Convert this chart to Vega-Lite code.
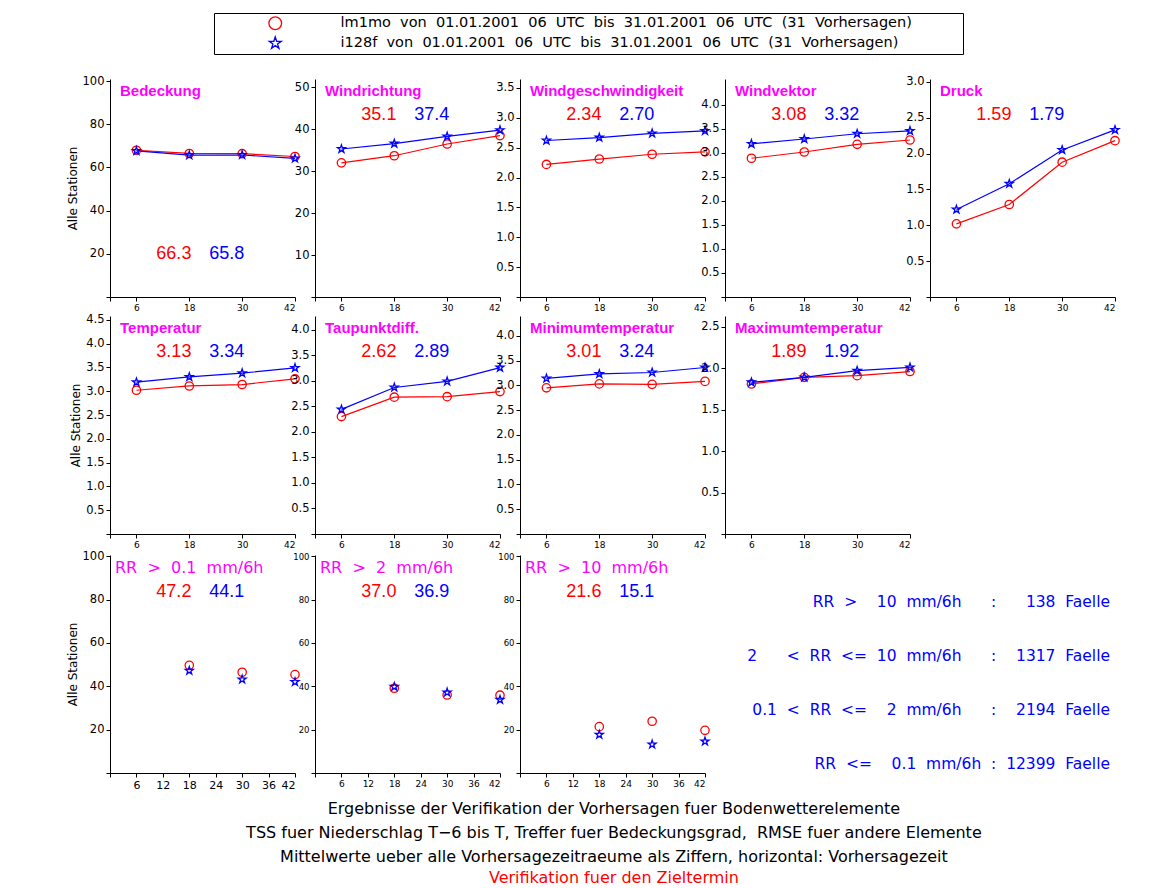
{
  "$schema": "https://vega.github.io/schema/vega-lite/v6.json",
  "background": "white",
  "padding": {"left": 66, "top": 12, "right": 5, "bottom": 5},
  "config": {
    "font": "DejaVu Sans",
    "view": {"stroke": null},
    "axis": {"grid": false, "domainColor": "black", "tickColor": "black", "labelColor": "black", "titleColor": "black", "labelFont": "DejaVu Sans", "titleFont": "DejaVu Sans", "tickSize": 4, "domainWidth": 1, "tickWidth": 1, "labelPadding": 2, "titleFontWeight": "normal", "titleFontSize": 12, "labelOverlap": false},
    "axisX": {"labelFontSize": 9, "labelAngle": 0},
    "axisY": {"labelFontSize": 11.5, "titlePadding": 3}
  },
  "title": {
    "text": ["Ergebnisse der Verifikation der Vorhersagen fuer Bodenwetterelemente", "TSS fuer Niederschlag T\u22126 bis T, Treffer fuer Bedeckungsgrad,\u00a0 RMSE fuer andere Elemente", "Mittelwerte ueber alle Vorhersagezeitraeume als Ziffern, horizontal: Vorhersagezeit"],
    "subtitle": "Verifikation fuer den Zieltermin",
    "orient": "bottom", "anchor": "middle", "frame": "bounds", "dx": 20,
    "font": "DejaVu Sans", "fontSize": 16, "fontWeight": "normal", "color": "#000000", "lineHeight": 24,
    "subtitleFont": "DejaVu Sans", "subtitleFontSize": 16, "subtitleColor": "#ff0000", "subtitlePadding": 5, "offset": 11
  },
  "datasets": {
    "series": [
      {"panel": "Bedeckung", "model": "lm1mo", "lead": 6, "value": 68.0},
      {"panel": "Bedeckung", "model": "lm1mo", "lead": 18, "value": 66.5},
      {"panel": "Bedeckung", "model": "lm1mo", "lead": 30, "value": 66.4},
      {"panel": "Bedeckung", "model": "lm1mo", "lead": 42, "value": 65.1},
      {"panel": "Bedeckung", "model": "i128f", "lead": 6, "value": 67.7},
      {"panel": "Bedeckung", "model": "i128f", "lead": 18, "value": 65.7},
      {"panel": "Bedeckung", "model": "i128f", "lead": 30, "value": 65.8},
      {"panel": "Bedeckung", "model": "i128f", "lead": 42, "value": 64.2},
      {"panel": "Windrichtung", "model": "lm1mo", "lead": 6, "value": 32.0},
      {"panel": "Windrichtung", "model": "lm1mo", "lead": 18, "value": 33.7},
      {"panel": "Windrichtung", "model": "lm1mo", "lead": 30, "value": 36.5},
      {"panel": "Windrichtung", "model": "lm1mo", "lead": 42, "value": 38.5},
      {"panel": "Windrichtung", "model": "i128f", "lead": 6, "value": 35.3},
      {"panel": "Windrichtung", "model": "i128f", "lead": 18, "value": 36.6},
      {"panel": "Windrichtung", "model": "i128f", "lead": 30, "value": 38.3},
      {"panel": "Windrichtung", "model": "i128f", "lead": 42, "value": 39.8},
      {"panel": "Windgeschwindigkeit", "model": "lm1mo", "lead": 6, "value": 2.22},
      {"panel": "Windgeschwindigkeit", "model": "lm1mo", "lead": 18, "value": 2.31},
      {"panel": "Windgeschwindigkeit", "model": "lm1mo", "lead": 30, "value": 2.39},
      {"panel": "Windgeschwindigkeit", "model": "lm1mo", "lead": 42, "value": 2.43},
      {"panel": "Windgeschwindigkeit", "model": "i128f", "lead": 6, "value": 2.62},
      {"panel": "Windgeschwindigkeit", "model": "i128f", "lead": 18, "value": 2.67},
      {"panel": "Windgeschwindigkeit", "model": "i128f", "lead": 30, "value": 2.74},
      {"panel": "Windgeschwindigkeit", "model": "i128f", "lead": 42, "value": 2.78},
      {"panel": "Windvektor", "model": "lm1mo", "lead": 6, "value": 2.89},
      {"panel": "Windvektor", "model": "lm1mo", "lead": 18, "value": 3.02},
      {"panel": "Windvektor", "model": "lm1mo", "lead": 30, "value": 3.18},
      {"panel": "Windvektor", "model": "lm1mo", "lead": 42, "value": 3.27},
      {"panel": "Windvektor", "model": "i128f", "lead": 6, "value": 3.19},
      {"panel": "Windvektor", "model": "i128f", "lead": 18, "value": 3.29},
      {"panel": "Windvektor", "model": "i128f", "lead": 30, "value": 3.40},
      {"panel": "Windvektor", "model": "i128f", "lead": 42, "value": 3.46},
      {"panel": "Druck", "model": "lm1mo", "lead": 6, "value": 1.02},
      {"panel": "Druck", "model": "lm1mo", "lead": 18, "value": 1.29},
      {"panel": "Druck", "model": "lm1mo", "lead": 30, "value": 1.88},
      {"panel": "Druck", "model": "lm1mo", "lead": 42, "value": 2.18},
      {"panel": "Druck", "model": "i128f", "lead": 6, "value": 1.22},
      {"panel": "Druck", "model": "i128f", "lead": 18, "value": 1.58},
      {"panel": "Druck", "model": "i128f", "lead": 30, "value": 2.05},
      {"panel": "Druck", "model": "i128f", "lead": 42, "value": 2.33},
      {"panel": "Temperatur", "model": "lm1mo", "lead": 6, "value": 3.02},
      {"panel": "Temperatur", "model": "lm1mo", "lead": 18, "value": 3.11},
      {"panel": "Temperatur", "model": "lm1mo", "lead": 30, "value": 3.14},
      {"panel": "Temperatur", "model": "lm1mo", "lead": 42, "value": 3.26},
      {"panel": "Temperatur", "model": "i128f", "lead": 6, "value": 3.19},
      {"panel": "Temperatur", "model": "i128f", "lead": 18, "value": 3.30},
      {"panel": "Temperatur", "model": "i128f", "lead": 30, "value": 3.38},
      {"panel": "Temperatur", "model": "i128f", "lead": 42, "value": 3.49},
      {"panel": "Taupunktdiff.", "model": "lm1mo", "lead": 6, "value": 2.30},
      {"panel": "Taupunktdiff.", "model": "lm1mo", "lead": 18, "value": 2.68},
      {"panel": "Taupunktdiff.", "model": "lm1mo", "lead": 30, "value": 2.69},
      {"panel": "Taupunktdiff.", "model": "lm1mo", "lead": 42, "value": 2.79},
      {"panel": "Taupunktdiff.", "model": "i128f", "lead": 6, "value": 2.44},
      {"panel": "Taupunktdiff.", "model": "i128f", "lead": 18, "value": 2.87},
      {"panel": "Taupunktdiff.", "model": "i128f", "lead": 30, "value": 2.99},
      {"panel": "Taupunktdiff.", "model": "i128f", "lead": 42, "value": 3.26},
      {"panel": "Minimumtemperatur", "model": "lm1mo", "lead": 6, "value": 2.95},
      {"panel": "Minimumtemperatur", "model": "lm1mo", "lead": 18, "value": 3.03},
      {"panel": "Minimumtemperatur", "model": "lm1mo", "lead": 30, "value": 3.02},
      {"panel": "Minimumtemperatur", "model": "lm1mo", "lead": 42, "value": 3.08},
      {"panel": "Minimumtemperatur", "model": "i128f", "lead": 6, "value": 3.14},
      {"panel": "Minimumtemperatur", "model": "i128f", "lead": 18, "value": 3.23},
      {"panel": "Minimumtemperatur", "model": "i128f", "lead": 30, "value": 3.26},
      {"panel": "Minimumtemperatur", "model": "i128f", "lead": 42, "value": 3.36},
      {"panel": "Maximumtemperatur", "model": "lm1mo", "lead": 6, "value": 1.81},
      {"panel": "Maximumtemperatur", "model": "lm1mo", "lead": 18, "value": 1.89},
      {"panel": "Maximumtemperatur", "model": "lm1mo", "lead": 30, "value": 1.91},
      {"panel": "Maximumtemperatur", "model": "lm1mo", "lead": 42, "value": 1.96},
      {"panel": "Maximumtemperatur", "model": "i128f", "lead": 6, "value": 1.83},
      {"panel": "Maximumtemperatur", "model": "i128f", "lead": 18, "value": 1.89},
      {"panel": "Maximumtemperatur", "model": "i128f", "lead": 30, "value": 1.97},
      {"panel": "Maximumtemperatur", "model": "i128f", "lead": 42, "value": 2.01},
      {"panel": "RR01", "model": "lm1mo", "lead": 18, "value": 49.7},
      {"panel": "RR01", "model": "lm1mo", "lead": 30, "value": 46.5},
      {"panel": "RR01", "model": "lm1mo", "lead": 42, "value": 45.4},
      {"panel": "RR01", "model": "i128f", "lead": 18, "value": 47.2},
      {"panel": "RR01", "model": "i128f", "lead": 30, "value": 43.2},
      {"panel": "RR01", "model": "i128f", "lead": 42, "value": 42.0},
      {"panel": "RR2", "model": "lm1mo", "lead": 18, "value": 39.1},
      {"panel": "RR2", "model": "lm1mo", "lead": 30, "value": 36.0},
      {"panel": "RR2", "model": "lm1mo", "lead": 42, "value": 35.9},
      {"panel": "RR2", "model": "i128f", "lead": 18, "value": 39.8},
      {"panel": "RR2", "model": "i128f", "lead": 30, "value": 37.2},
      {"panel": "RR2", "model": "i128f", "lead": 42, "value": 33.8},
      {"panel": "RR10", "model": "lm1mo", "lead": 18, "value": 21.4},
      {"panel": "RR10", "model": "lm1mo", "lead": 30, "value": 23.9},
      {"panel": "RR10", "model": "lm1mo", "lead": 42, "value": 19.7},
      {"panel": "RR10", "model": "i128f", "lead": 18, "value": 17.7},
      {"panel": "RR10", "model": "i128f", "lead": 30, "value": 13.2},
      {"panel": "RR10", "model": "i128f", "lead": 42, "value": 14.6}
    ],
    "panels": [
      {"panel": "Bedeckung", "title": "Bedeckung", "red": "66.3", "blue": "65.8"},
      {"panel": "Windrichtung", "title": "Windrichtung", "red": "35.1", "blue": "37.4"},
      {"panel": "Windgeschwindigkeit", "title": "Windgeschwindigkeit", "red": "2.34", "blue": "2.70"},
      {"panel": "Windvektor", "title": "Windvektor", "red": "3.08", "blue": "3.32"},
      {"panel": "Druck", "title": "Druck", "red": "1.59", "blue": "1.79"},
      {"panel": "Temperatur", "title": "Temperatur", "red": "3.13", "blue": "3.34"},
      {"panel": "Taupunktdiff.", "title": "Taupunktdiff.", "red": "2.62", "blue": "2.89"},
      {"panel": "Minimumtemperatur", "title": "Minimumtemperatur", "red": "3.01", "blue": "3.24"},
      {"panel": "Maximumtemperatur", "title": "Maximumtemperatur", "red": "1.89", "blue": "1.92"},
      {"panel": "RR01", "title": "RR\u00a0\u00a0>\u00a0\u00a00.1\u00a0\u00a0mm/6h", "red": "47.2", "blue": "44.1"},
      {"panel": "RR2", "title": "RR\u00a0\u00a0>\u00a0\u00a02\u00a0\u00a0mm/6h", "red": "37.0", "blue": "36.9"},
      {"panel": "RR10", "title": "RR\u00a0\u00a0>\u00a0\u00a010\u00a0\u00a0mm/6h", "red": "21.6", "blue": "15.1"}
    ],
    "counts": [
      {"line": "RR\u00a0\u00a0>\u00a0\u00a0\u00a0\u00a010\u00a0\u00a0mm/6h\u00a0\u00a0\u00a0\u00a0\u00a0\u00a0:\u00a0\u00a0\u00a0\u00a0\u00a0\u00a0138\u00a0\u00a0Faelle"},
      {"line": "2\u00a0\u00a0\u00a0\u00a0\u00a0\u00a0<\u00a0\u00a0RR\u00a0\u00a0<=\u00a0\u00a010\u00a0\u00a0mm/6h\u00a0\u00a0\u00a0\u00a0\u00a0\u00a0:\u00a0\u00a0\u00a0\u00a01317\u00a0\u00a0Faelle"},
      {"line": "0.1\u00a0\u00a0<\u00a0\u00a0RR\u00a0\u00a0<=\u00a0\u00a0\u00a0\u00a02\u00a0\u00a0mm/6h\u00a0\u00a0\u00a0\u00a0\u00a0\u00a0:\u00a0\u00a0\u00a0\u00a02194\u00a0\u00a0Faelle"},
      {"line": "RR\u00a0\u00a0<=\u00a0\u00a0\u00a0\u00a00.1\u00a0\u00a0mm/6h\u00a0\u00a0:\u00a0\u00a012399\u00a0\u00a0Faelle"}
    ]
  },
  "spacing": 1,
  "vconcat": [
    {
      "spacing": 20, "bounds": "flush",
      "hconcat": [
        {
          "width": 185, "height": 218,
          "resolve": {"scale": {"x": "independent", "y": "independent"}},
          "layer": [
            {
              "encoding": {
                "x": {"field": "lead", "type": "quantitative", "scale": {"domain": [0, 42], "nice": false, "zero": false}, "axis": {"values": [0, 6, 18, 30, 42], "labelExpr": "datum.value==0?'':datum.label", "title": null, "labelOverlap": false}},
                "y": {"field": "value", "type": "quantitative", "scale": {"domain": [0, 101], "nice": false, "zero": false}, "axis": {"values": [0, 20, 40, 60, 80, 100], "format": "d", "labelExpr": "datum.value==0?'':datum.label", "title": "Alle Stationen", "labelOverlap": false}}
              },
              "layer": [
                {"data": {"name": "series"}, "transform": [{"filter": "datum.panel=='Bedeckung' && datum.model=='lm1mo'"}], "mark": {"type": "line", "color": "#ff0000", "strokeWidth": 1.2}, "encoding": {}},
                {"data": {"name": "series"}, "transform": [{"filter": "datum.panel=='Bedeckung' && datum.model=='i128f'"}], "mark": {"type": "line", "color": "#0000ff", "strokeWidth": 1.2}, "encoding": {}},
                {"data": {"name": "series"}, "transform": [{"filter": "datum.panel=='Bedeckung'"}], "mark": {"type": "point", "filled": false, "size": 70, "strokeWidth": 1.3, "opacity": 1},
                 "encoding": {
                   "color": {"field": "model", "type": "nominal", "scale": {"domain": ["lm1mo", "i128f"], "range": ["#ff0000", "#0000ff"]},
                     "legend": {"orient": "none", "legendX": 104, "legendY": -66, "title": null, "direction": "vertical", "strokeColor": "black", "padding": 3, "symbolOffset": 51, "labelOffset": 58, "symbolSize": 160, "symbolStrokeWidth": 1.3, "labelFontSize": 14.5, "labelFont": "DejaVu Sans", "labelLimit": 2000, "rowPadding": 1,
                       "labelExpr": "datum.value == 'lm1mo' ? 'lm1mo\u00a0 von\u00a0 01.01.2001\u00a0 06\u00a0 UTC\u00a0 bis\u00a0 31.01.2001\u00a0 06\u00a0 UTC\u00a0 (31\u00a0 Vorhersagen)\u00a0\u00a0\u00a0\u00a0\u00a0\u00a0\u00a0\u00a0\u2800' : 'i128f\u00a0 von\u00a0 01.01.2001\u00a0 06\u00a0 UTC\u00a0 bis\u00a0 31.01.2001\u00a0 06\u00a0 UTC\u00a0 (31\u00a0 Vorhersagen)'",
                       "encode": {"labels": {"update": {"fill": {"signal": "datum.value == 'lm1mo' ? '#ff0000' : '#0000ff'"}}}}}},
                   "shape": {"field": "model", "type": "nominal", "scale": {"domain": ["lm1mo", "i128f"], "range": ["circle", "M0,-1L0.2245,-0.309L0.951,-0.309L0.363,0.118L0.588,0.809L0,0.382L-0.588,0.809L-0.363,0.118L-0.951,-0.309L-0.2245,-0.309Z"]},
                     "legend": {"orient": "none", "legendX": 104, "legendY": -66, "title": null, "direction": "vertical", "strokeColor": "black", "padding": 3, "symbolOffset": 51, "labelOffset": 58, "symbolSize": 160, "symbolStrokeWidth": 1.3, "labelFontSize": 14.5, "labelFont": "DejaVu Sans", "labelLimit": 2000, "rowPadding": 1,
                       "labelExpr": "datum.value == 'lm1mo' ? 'lm1mo\u00a0 von\u00a0 01.01.2001\u00a0 06\u00a0 UTC\u00a0 bis\u00a0 31.01.2001\u00a0 06\u00a0 UTC\u00a0 (31\u00a0 Vorhersagen)\u00a0\u00a0\u00a0\u00a0\u00a0\u00a0\u00a0\u00a0\u2800' : 'i128f\u00a0 von\u00a0 01.01.2001\u00a0 06\u00a0 UTC\u00a0 bis\u00a0 31.01.2001\u00a0 06\u00a0 UTC\u00a0 (31\u00a0 Vorhersagen)'",
                       "encode": {"labels": {"update": {"fill": {"signal": "datum.value == 'lm1mo' ? '#ff0000' : '#0000ff'"}}}}}}
                 }}
              ]
            },
            {"data": {"name": "panels"}, "transform": [{"filter": "datum.panel=='Bedeckung'"}], "mark": {"type": "text", "color": "#ff00ff", "font": "Liberation Sans", "fontSize": 15, "fontWeight": "bold", "align": "left", "baseline": "middle", "dx": 10, "dy": 12}, "encoding": {"x": {"datum": 0, "type": "quantitative", "scale": {"domain": [0, 42], "nice": false, "zero": false}, "axis": null}, "y": {"datum": 101, "type": "quantitative", "scale": {"domain": [0, 101], "nice": false, "zero": false}, "axis": null}, "text": {"field": "title"}}},
            {"data": {"name": "panels"}, "transform": [{"filter": "datum.panel=='Bedeckung'"}], "mark": {"type": "text", "color": "#ff0000", "font": "Liberation Sans", "fontSize": 18, "align": "center", "baseline": "middle"}, "encoding": {"x": {"datum": 14.5, "type": "quantitative", "scale": {"domain": [0, 42], "nice": false, "zero": false}, "axis": null}, "y": {"datum": 20, "type": "quantitative", "scale": {"domain": [0, 101], "nice": false, "zero": false}, "axis": null}, "text": {"field": "red"}}},
            {"data": {"name": "panels"}, "transform": [{"filter": "datum.panel=='Bedeckung'"}], "mark": {"type": "text", "color": "#0000ff", "font": "Liberation Sans", "fontSize": 18, "align": "center", "baseline": "middle"}, "encoding": {"x": {"datum": 26.5, "type": "quantitative", "scale": {"domain": [0, 42], "nice": false, "zero": false}, "axis": null}, "y": {"datum": 20, "type": "quantitative", "scale": {"domain": [0, 101], "nice": false, "zero": false}, "axis": null}, "text": {"field": "blue"}}}
          ]
        },
        {
          "width": 185, "height": 218,
          "resolve": {"scale": {"x": "independent", "y": "independent"}},
          "layer": [
            {
              "encoding": {
                "x": {"field": "lead", "type": "quantitative", "scale": {"domain": [0, 42], "nice": false, "zero": false}, "axis": {"values": [0, 6, 18, 30, 42], "labelExpr": "datum.value==0?'':datum.label", "title": null, "labelOverlap": false}},
                "y": {"field": "value", "type": "quantitative", "scale": {"domain": [0, 52], "nice": false, "zero": false}, "axis": {"values": [0, 10, 20, 30, 40, 50], "format": "d", "labelExpr": "datum.value==0?'':datum.label", "title": null, "labelOverlap": false}}
              },
              "layer": [
                {"data": {"name": "series"}, "transform": [{"filter": "datum.panel=='Windrichtung' && datum.model=='lm1mo'"}], "mark": {"type": "line", "color": "#ff0000", "strokeWidth": 1.2}, "encoding": {}},
                {"data": {"name": "series"}, "transform": [{"filter": "datum.panel=='Windrichtung' && datum.model=='i128f'"}], "mark": {"type": "line", "color": "#0000ff", "strokeWidth": 1.2}, "encoding": {}},
                {"data": {"name": "series"}, "transform": [{"filter": "datum.panel=='Windrichtung'"}], "mark": {"type": "point", "filled": false, "size": 70, "strokeWidth": 1.3, "opacity": 1},
                 "encoding": {"color": {"field": "model", "type": "nominal", "scale": {"domain": ["lm1mo", "i128f"], "range": ["#ff0000", "#0000ff"]}}, "shape": {"field": "model", "type": "nominal", "scale": {"domain": ["lm1mo", "i128f"], "range": ["circle", "M0,-1L0.2245,-0.309L0.951,-0.309L0.363,0.118L0.588,0.809L0,0.382L-0.588,0.809L-0.363,0.118L-0.951,-0.309L-0.2245,-0.309Z"]}}}}
              ]
            },
            {"data": {"name": "panels"}, "transform": [{"filter": "datum.panel=='Windrichtung'"}], "mark": {"type": "text", "color": "#ff00ff", "font": "Liberation Sans", "fontSize": 15, "fontWeight": "bold", "align": "left", "baseline": "middle", "dx": 10, "dy": 12}, "encoding": {"x": {"datum": 0, "type": "quantitative", "scale": {"domain": [0, 42], "nice": false, "zero": false}, "axis": null}, "y": {"datum": 52, "type": "quantitative", "scale": {"domain": [0, 52], "nice": false, "zero": false}, "axis": null}, "text": {"field": "title"}}},
            {"data": {"name": "panels"}, "transform": [{"filter": "datum.panel=='Windrichtung'"}], "mark": {"type": "text", "color": "#ff0000", "font": "Liberation Sans", "fontSize": 18, "align": "center", "baseline": "middle", "dy": 36}, "encoding": {"x": {"datum": 14.5, "type": "quantitative", "scale": {"domain": [0, 42], "nice": false, "zero": false}, "axis": null}, "y": {"datum": 52, "type": "quantitative", "scale": {"domain": [0, 52], "nice": false, "zero": false}, "axis": null}, "text": {"field": "red"}}},
            {"data": {"name": "panels"}, "transform": [{"filter": "datum.panel=='Windrichtung'"}], "mark": {"type": "text", "color": "#0000ff", "font": "Liberation Sans", "fontSize": 18, "align": "center", "baseline": "middle", "dy": 36}, "encoding": {"x": {"datum": 26.5, "type": "quantitative", "scale": {"domain": [0, 42], "nice": false, "zero": false}, "axis": null}, "y": {"datum": 52, "type": "quantitative", "scale": {"domain": [0, 52], "nice": false, "zero": false}, "axis": null}, "text": {"field": "blue"}}}
          ]
        },
        {
          "width": 185, "height": 218,
          "resolve": {"scale": {"x": "independent", "y": "independent"}},
          "layer": [
            {
              "encoding": {
                "x": {"field": "lead", "type": "quantitative", "scale": {"domain": [0, 42], "nice": false, "zero": false}, "axis": {"values": [0, 6, 18, 30, 42], "labelExpr": "datum.value==0?'':datum.label", "title": null, "labelOverlap": false}},
                "y": {"field": "value", "type": "quantitative", "scale": {"domain": [0, 3.65], "nice": false, "zero": false}, "axis": {"values": [0, 0.5, 1, 1.5, 2, 2.5, 3, 3.5], "format": ".1f", "labelExpr": "datum.value==0?'':datum.label", "title": null, "labelOverlap": false}}
              },
              "layer": [
                {"data": {"name": "series"}, "transform": [{"filter": "datum.panel=='Windgeschwindigkeit' && datum.model=='lm1mo'"}], "mark": {"type": "line", "color": "#ff0000", "strokeWidth": 1.2}, "encoding": {}},
                {"data": {"name": "series"}, "transform": [{"filter": "datum.panel=='Windgeschwindigkeit' && datum.model=='i128f'"}], "mark": {"type": "line", "color": "#0000ff", "strokeWidth": 1.2}, "encoding": {}},
                {"data": {"name": "series"}, "transform": [{"filter": "datum.panel=='Windgeschwindigkeit'"}], "mark": {"type": "point", "filled": false, "size": 70, "strokeWidth": 1.3, "opacity": 1},
                 "encoding": {"color": {"field": "model", "type": "nominal", "scale": {"domain": ["lm1mo", "i128f"], "range": ["#ff0000", "#0000ff"]}}, "shape": {"field": "model", "type": "nominal", "scale": {"domain": ["lm1mo", "i128f"], "range": ["circle", "M0,-1L0.2245,-0.309L0.951,-0.309L0.363,0.118L0.588,0.809L0,0.382L-0.588,0.809L-0.363,0.118L-0.951,-0.309L-0.2245,-0.309Z"]}}}}
              ]
            },
            {"data": {"name": "panels"}, "transform": [{"filter": "datum.panel=='Windgeschwindigkeit'"}], "mark": {"type": "text", "color": "#ff00ff", "font": "Liberation Sans", "fontSize": 15, "fontWeight": "bold", "align": "left", "baseline": "middle", "dx": 10, "dy": 12}, "encoding": {"x": {"datum": 0, "type": "quantitative", "scale": {"domain": [0, 42], "nice": false, "zero": false}, "axis": null}, "y": {"datum": 3.65, "type": "quantitative", "scale": {"domain": [0, 3.65], "nice": false, "zero": false}, "axis": null}, "text": {"field": "title"}}},
            {"data": {"name": "panels"}, "transform": [{"filter": "datum.panel=='Windgeschwindigkeit'"}], "mark": {"type": "text", "color": "#ff0000", "font": "Liberation Sans", "fontSize": 18, "align": "center", "baseline": "middle", "dy": 36}, "encoding": {"x": {"datum": 14.5, "type": "quantitative", "scale": {"domain": [0, 42], "nice": false, "zero": false}, "axis": null}, "y": {"datum": 3.65, "type": "quantitative", "scale": {"domain": [0, 3.65], "nice": false, "zero": false}, "axis": null}, "text": {"field": "red"}}},
            {"data": {"name": "panels"}, "transform": [{"filter": "datum.panel=='Windgeschwindigkeit'"}], "mark": {"type": "text", "color": "#0000ff", "font": "Liberation Sans", "fontSize": 18, "align": "center", "baseline": "middle", "dy": 36}, "encoding": {"x": {"datum": 26.5, "type": "quantitative", "scale": {"domain": [0, 42], "nice": false, "zero": false}, "axis": null}, "y": {"datum": 3.65, "type": "quantitative", "scale": {"domain": [0, 3.65], "nice": false, "zero": false}, "axis": null}, "text": {"field": "blue"}}}
          ]
        },
        {
          "width": 185, "height": 218,
          "resolve": {"scale": {"x": "independent", "y": "independent"}},
          "layer": [
            {
              "encoding": {
                "x": {"field": "lead", "type": "quantitative", "scale": {"domain": [0, 42], "nice": false, "zero": false}, "axis": {"values": [0, 6, 18, 30, 42], "labelExpr": "datum.value==0?'':datum.label", "title": null, "labelOverlap": false}},
                "y": {"field": "value", "type": "quantitative", "scale": {"domain": [0, 4.54], "nice": false, "zero": false}, "axis": {"values": [0, 0.5, 1, 1.5, 2, 2.5, 3, 3.5, 4], "format": ".1f", "labelExpr": "datum.value==0?'':datum.label", "title": null, "labelOverlap": false}}
              },
              "layer": [
                {"data": {"name": "series"}, "transform": [{"filter": "datum.panel=='Windvektor' && datum.model=='lm1mo'"}], "mark": {"type": "line", "color": "#ff0000", "strokeWidth": 1.2}, "encoding": {}},
                {"data": {"name": "series"}, "transform": [{"filter": "datum.panel=='Windvektor' && datum.model=='i128f'"}], "mark": {"type": "line", "color": "#0000ff", "strokeWidth": 1.2}, "encoding": {}},
                {"data": {"name": "series"}, "transform": [{"filter": "datum.panel=='Windvektor'"}], "mark": {"type": "point", "filled": false, "size": 70, "strokeWidth": 1.3, "opacity": 1},
                 "encoding": {"color": {"field": "model", "type": "nominal", "scale": {"domain": ["lm1mo", "i128f"], "range": ["#ff0000", "#0000ff"]}}, "shape": {"field": "model", "type": "nominal", "scale": {"domain": ["lm1mo", "i128f"], "range": ["circle", "M0,-1L0.2245,-0.309L0.951,-0.309L0.363,0.118L0.588,0.809L0,0.382L-0.588,0.809L-0.363,0.118L-0.951,-0.309L-0.2245,-0.309Z"]}}}}
              ]
            },
            {"data": {"name": "panels"}, "transform": [{"filter": "datum.panel=='Windvektor'"}], "mark": {"type": "text", "color": "#ff00ff", "font": "Liberation Sans", "fontSize": 15, "fontWeight": "bold", "align": "left", "baseline": "middle", "dx": 10, "dy": 12}, "encoding": {"x": {"datum": 0, "type": "quantitative", "scale": {"domain": [0, 42], "nice": false, "zero": false}, "axis": null}, "y": {"datum": 4.54, "type": "quantitative", "scale": {"domain": [0, 4.54], "nice": false, "zero": false}, "axis": null}, "text": {"field": "title"}}},
            {"data": {"name": "panels"}, "transform": [{"filter": "datum.panel=='Windvektor'"}], "mark": {"type": "text", "color": "#ff0000", "font": "Liberation Sans", "fontSize": 18, "align": "center", "baseline": "middle", "dy": 36}, "encoding": {"x": {"datum": 14.5, "type": "quantitative", "scale": {"domain": [0, 42], "nice": false, "zero": false}, "axis": null}, "y": {"datum": 4.54, "type": "quantitative", "scale": {"domain": [0, 4.54], "nice": false, "zero": false}, "axis": null}, "text": {"field": "red"}}},
            {"data": {"name": "panels"}, "transform": [{"filter": "datum.panel=='Windvektor'"}], "mark": {"type": "text", "color": "#0000ff", "font": "Liberation Sans", "fontSize": 18, "align": "center", "baseline": "middle", "dy": 36}, "encoding": {"x": {"datum": 26.5, "type": "quantitative", "scale": {"domain": [0, 42], "nice": false, "zero": false}, "axis": null}, "y": {"datum": 4.54, "type": "quantitative", "scale": {"domain": [0, 4.54], "nice": false, "zero": false}, "axis": null}, "text": {"field": "blue"}}}
          ]
        },
        {
          "width": 185, "height": 218,
          "resolve": {"scale": {"x": "independent", "y": "independent"}},
          "layer": [
            {
              "encoding": {
                "x": {"field": "lead", "type": "quantitative", "scale": {"domain": [0, 42], "nice": false, "zero": false}, "axis": {"values": [0, 6, 18, 30, 42], "labelExpr": "datum.value==0?'':datum.label", "title": null, "labelOverlap": false}},
                "y": {"field": "value", "type": "quantitative", "scale": {"domain": [0, 3.04], "nice": false, "zero": false}, "axis": {"values": [0, 0.5, 1, 1.5, 2, 2.5, 3], "format": ".1f", "labelExpr": "datum.value==0?'':datum.label", "title": null, "labelOverlap": false}}
              },
              "layer": [
                {"data": {"name": "series"}, "transform": [{"filter": "datum.panel=='Druck' && datum.model=='lm1mo'"}], "mark": {"type": "line", "color": "#ff0000", "strokeWidth": 1.2}, "encoding": {}},
                {"data": {"name": "series"}, "transform": [{"filter": "datum.panel=='Druck' && datum.model=='i128f'"}], "mark": {"type": "line", "color": "#0000ff", "strokeWidth": 1.2}, "encoding": {}},
                {"data": {"name": "series"}, "transform": [{"filter": "datum.panel=='Druck'"}], "mark": {"type": "point", "filled": false, "size": 70, "strokeWidth": 1.3, "opacity": 1},
                 "encoding": {"color": {"field": "model", "type": "nominal", "scale": {"domain": ["lm1mo", "i128f"], "range": ["#ff0000", "#0000ff"]}}, "shape": {"field": "model", "type": "nominal", "scale": {"domain": ["lm1mo", "i128f"], "range": ["circle", "M0,-1L0.2245,-0.309L0.951,-0.309L0.363,0.118L0.588,0.809L0,0.382L-0.588,0.809L-0.363,0.118L-0.951,-0.309L-0.2245,-0.309Z"]}}}}
              ]
            },
            {"data": {"name": "panels"}, "transform": [{"filter": "datum.panel=='Druck'"}], "mark": {"type": "text", "color": "#ff00ff", "font": "Liberation Sans", "fontSize": 15, "fontWeight": "bold", "align": "left", "baseline": "middle", "dx": 10, "dy": 12}, "encoding": {"x": {"datum": 0, "type": "quantitative", "scale": {"domain": [0, 42], "nice": false, "zero": false}, "axis": null}, "y": {"datum": 3.04, "type": "quantitative", "scale": {"domain": [0, 3.04], "nice": false, "zero": false}, "axis": null}, "text": {"field": "title"}}},
            {"data": {"name": "panels"}, "transform": [{"filter": "datum.panel=='Druck'"}], "mark": {"type": "text", "color": "#ff0000", "font": "Liberation Sans", "fontSize": 18, "align": "center", "baseline": "middle", "dy": 36}, "encoding": {"x": {"datum": 14.5, "type": "quantitative", "scale": {"domain": [0, 42], "nice": false, "zero": false}, "axis": null}, "y": {"datum": 3.04, "type": "quantitative", "scale": {"domain": [0, 3.04], "nice": false, "zero": false}, "axis": null}, "text": {"field": "red"}}},
            {"data": {"name": "panels"}, "transform": [{"filter": "datum.panel=='Druck'"}], "mark": {"type": "text", "color": "#0000ff", "font": "Liberation Sans", "fontSize": 18, "align": "center", "baseline": "middle", "dy": 36}, "encoding": {"x": {"datum": 26.5, "type": "quantitative", "scale": {"domain": [0, 42], "nice": false, "zero": false}, "axis": null}, "y": {"datum": 3.04, "type": "quantitative", "scale": {"domain": [0, 3.04], "nice": false, "zero": false}, "axis": null}, "text": {"field": "blue"}}}
          ]
        }
      ]
    },
    {
      "spacing": 20, "bounds": "flush",
      "hconcat": [
        {
          "width": 185, "height": 218,
          "resolve": {"scale": {"x": "independent", "y": "independent"}},
          "layer": [
            {
              "encoding": {
                "x": {"field": "lead", "type": "quantitative", "scale": {"domain": [0, 42], "nice": false, "zero": false}, "axis": {"values": [0, 6, 18, 30, 42], "labelExpr": "datum.value==0?'':datum.label", "title": null, "labelOverlap": false}},
                "y": {"field": "value", "type": "quantitative", "scale": {"domain": [0, 4.58], "nice": false, "zero": false}, "axis": {"values": [0, 0.5, 1, 1.5, 2, 2.5, 3, 3.5, 4, 4.5], "format": ".1f", "labelExpr": "datum.value==0?'':datum.label", "title": "Alle Stationen", "labelOverlap": false}}
              },
              "layer": [
                {"data": {"name": "series"}, "transform": [{"filter": "datum.panel=='Temperatur' && datum.model=='lm1mo'"}], "mark": {"type": "line", "color": "#ff0000", "strokeWidth": 1.2}, "encoding": {}},
                {"data": {"name": "series"}, "transform": [{"filter": "datum.panel=='Temperatur' && datum.model=='i128f'"}], "mark": {"type": "line", "color": "#0000ff", "strokeWidth": 1.2}, "encoding": {}},
                {"data": {"name": "series"}, "transform": [{"filter": "datum.panel=='Temperatur'"}], "mark": {"type": "point", "filled": false, "size": 70, "strokeWidth": 1.3, "opacity": 1},
                 "encoding": {"color": {"field": "model", "type": "nominal", "scale": {"domain": ["lm1mo", "i128f"], "range": ["#ff0000", "#0000ff"]}}, "shape": {"field": "model", "type": "nominal", "scale": {"domain": ["lm1mo", "i128f"], "range": ["circle", "M0,-1L0.2245,-0.309L0.951,-0.309L0.363,0.118L0.588,0.809L0,0.382L-0.588,0.809L-0.363,0.118L-0.951,-0.309L-0.2245,-0.309Z"]}}}}
              ]
            },
            {"data": {"name": "panels"}, "transform": [{"filter": "datum.panel=='Temperatur'"}], "mark": {"type": "text", "color": "#ff00ff", "font": "Liberation Sans", "fontSize": 15, "fontWeight": "bold", "align": "left", "baseline": "middle", "dx": 10, "dy": 12}, "encoding": {"x": {"datum": 0, "type": "quantitative", "scale": {"domain": [0, 42], "nice": false, "zero": false}, "axis": null}, "y": {"datum": 4.58, "type": "quantitative", "scale": {"domain": [0, 4.58], "nice": false, "zero": false}, "axis": null}, "text": {"field": "title"}}},
            {"data": {"name": "panels"}, "transform": [{"filter": "datum.panel=='Temperatur'"}], "mark": {"type": "text", "color": "#ff0000", "font": "Liberation Sans", "fontSize": 18, "align": "center", "baseline": "middle", "dy": 36}, "encoding": {"x": {"datum": 14.5, "type": "quantitative", "scale": {"domain": [0, 42], "nice": false, "zero": false}, "axis": null}, "y": {"datum": 4.58, "type": "quantitative", "scale": {"domain": [0, 4.58], "nice": false, "zero": false}, "axis": null}, "text": {"field": "red"}}},
            {"data": {"name": "panels"}, "transform": [{"filter": "datum.panel=='Temperatur'"}], "mark": {"type": "text", "color": "#0000ff", "font": "Liberation Sans", "fontSize": 18, "align": "center", "baseline": "middle", "dy": 36}, "encoding": {"x": {"datum": 26.5, "type": "quantitative", "scale": {"domain": [0, 42], "nice": false, "zero": false}, "axis": null}, "y": {"datum": 4.58, "type": "quantitative", "scale": {"domain": [0, 4.58], "nice": false, "zero": false}, "axis": null}, "text": {"field": "blue"}}}
          ]
        },
        {
          "width": 185, "height": 218,
          "resolve": {"scale": {"x": "independent", "y": "independent"}},
          "layer": [
            {
              "encoding": {
                "x": {"field": "lead", "type": "quantitative", "scale": {"domain": [0, 42], "nice": false, "zero": false}, "axis": {"values": [0, 6, 18, 30, 42], "labelExpr": "datum.value==0?'':datum.label", "title": null, "labelOverlap": false}},
                "y": {"field": "value", "type": "quantitative", "scale": {"domain": [0, 4.27], "nice": false, "zero": false}, "axis": {"values": [0, 0.5, 1, 1.5, 2, 2.5, 3, 3.5, 4], "format": ".1f", "labelExpr": "datum.value==0?'':datum.label", "title": null, "labelOverlap": false}}
              },
              "layer": [
                {"data": {"name": "series"}, "transform": [{"filter": "datum.panel=='Taupunktdiff.' && datum.model=='lm1mo'"}], "mark": {"type": "line", "color": "#ff0000", "strokeWidth": 1.2}, "encoding": {}},
                {"data": {"name": "series"}, "transform": [{"filter": "datum.panel=='Taupunktdiff.' && datum.model=='i128f'"}], "mark": {"type": "line", "color": "#0000ff", "strokeWidth": 1.2}, "encoding": {}},
                {"data": {"name": "series"}, "transform": [{"filter": "datum.panel=='Taupunktdiff.'"}], "mark": {"type": "point", "filled": false, "size": 70, "strokeWidth": 1.3, "opacity": 1},
                 "encoding": {"color": {"field": "model", "type": "nominal", "scale": {"domain": ["lm1mo", "i128f"], "range": ["#ff0000", "#0000ff"]}}, "shape": {"field": "model", "type": "nominal", "scale": {"domain": ["lm1mo", "i128f"], "range": ["circle", "M0,-1L0.2245,-0.309L0.951,-0.309L0.363,0.118L0.588,0.809L0,0.382L-0.588,0.809L-0.363,0.118L-0.951,-0.309L-0.2245,-0.309Z"]}}}}
              ]
            },
            {"data": {"name": "panels"}, "transform": [{"filter": "datum.panel=='Taupunktdiff.'"}], "mark": {"type": "text", "color": "#ff00ff", "font": "Liberation Sans", "fontSize": 15, "fontWeight": "bold", "align": "left", "baseline": "middle", "dx": 10, "dy": 12}, "encoding": {"x": {"datum": 0, "type": "quantitative", "scale": {"domain": [0, 42], "nice": false, "zero": false}, "axis": null}, "y": {"datum": 4.27, "type": "quantitative", "scale": {"domain": [0, 4.27], "nice": false, "zero": false}, "axis": null}, "text": {"field": "title"}}},
            {"data": {"name": "panels"}, "transform": [{"filter": "datum.panel=='Taupunktdiff.'"}], "mark": {"type": "text", "color": "#ff0000", "font": "Liberation Sans", "fontSize": 18, "align": "center", "baseline": "middle", "dy": 36}, "encoding": {"x": {"datum": 14.5, "type": "quantitative", "scale": {"domain": [0, 42], "nice": false, "zero": false}, "axis": null}, "y": {"datum": 4.27, "type": "quantitative", "scale": {"domain": [0, 4.27], "nice": false, "zero": false}, "axis": null}, "text": {"field": "red"}}},
            {"data": {"name": "panels"}, "transform": [{"filter": "datum.panel=='Taupunktdiff.'"}], "mark": {"type": "text", "color": "#0000ff", "font": "Liberation Sans", "fontSize": 18, "align": "center", "baseline": "middle", "dy": 36}, "encoding": {"x": {"datum": 26.5, "type": "quantitative", "scale": {"domain": [0, 42], "nice": false, "zero": false}, "axis": null}, "y": {"datum": 4.27, "type": "quantitative", "scale": {"domain": [0, 4.27], "nice": false, "zero": false}, "axis": null}, "text": {"field": "blue"}}}
          ]
        },
        {
          "width": 185, "height": 218,
          "resolve": {"scale": {"x": "independent", "y": "independent"}},
          "layer": [
            {
              "encoding": {
                "x": {"field": "lead", "type": "quantitative", "scale": {"domain": [0, 42], "nice": false, "zero": false}, "axis": {"values": [0, 6, 18, 30, 42], "labelExpr": "datum.value==0?'':datum.label", "title": null, "labelOverlap": false}},
                "y": {"field": "value", "type": "quantitative", "scale": {"domain": [0, 4.4], "nice": false, "zero": false}, "axis": {"values": [0, 0.5, 1, 1.5, 2, 2.5, 3, 3.5, 4], "format": ".1f", "labelExpr": "datum.value==0?'':datum.label", "title": null, "labelOverlap": false}}
              },
              "layer": [
                {"data": {"name": "series"}, "transform": [{"filter": "datum.panel=='Minimumtemperatur' && datum.model=='lm1mo'"}], "mark": {"type": "line", "color": "#ff0000", "strokeWidth": 1.2}, "encoding": {}},
                {"data": {"name": "series"}, "transform": [{"filter": "datum.panel=='Minimumtemperatur' && datum.model=='i128f'"}], "mark": {"type": "line", "color": "#0000ff", "strokeWidth": 1.2}, "encoding": {}},
                {"data": {"name": "series"}, "transform": [{"filter": "datum.panel=='Minimumtemperatur'"}], "mark": {"type": "point", "filled": false, "size": 70, "strokeWidth": 1.3, "opacity": 1},
                 "encoding": {"color": {"field": "model", "type": "nominal", "scale": {"domain": ["lm1mo", "i128f"], "range": ["#ff0000", "#0000ff"]}}, "shape": {"field": "model", "type": "nominal", "scale": {"domain": ["lm1mo", "i128f"], "range": ["circle", "M0,-1L0.2245,-0.309L0.951,-0.309L0.363,0.118L0.588,0.809L0,0.382L-0.588,0.809L-0.363,0.118L-0.951,-0.309L-0.2245,-0.309Z"]}}}}
              ]
            },
            {"data": {"name": "panels"}, "transform": [{"filter": "datum.panel=='Minimumtemperatur'"}], "mark": {"type": "text", "color": "#ff00ff", "font": "Liberation Sans", "fontSize": 15, "fontWeight": "bold", "align": "left", "baseline": "middle", "dx": 10, "dy": 12}, "encoding": {"x": {"datum": 0, "type": "quantitative", "scale": {"domain": [0, 42], "nice": false, "zero": false}, "axis": null}, "y": {"datum": 4.4, "type": "quantitative", "scale": {"domain": [0, 4.4], "nice": false, "zero": false}, "axis": null}, "text": {"field": "title"}}},
            {"data": {"name": "panels"}, "transform": [{"filter": "datum.panel=='Minimumtemperatur'"}], "mark": {"type": "text", "color": "#ff0000", "font": "Liberation Sans", "fontSize": 18, "align": "center", "baseline": "middle", "dy": 36}, "encoding": {"x": {"datum": 14.5, "type": "quantitative", "scale": {"domain": [0, 42], "nice": false, "zero": false}, "axis": null}, "y": {"datum": 4.4, "type": "quantitative", "scale": {"domain": [0, 4.4], "nice": false, "zero": false}, "axis": null}, "text": {"field": "red"}}},
            {"data": {"name": "panels"}, "transform": [{"filter": "datum.panel=='Minimumtemperatur'"}], "mark": {"type": "text", "color": "#0000ff", "font": "Liberation Sans", "fontSize": 18, "align": "center", "baseline": "middle", "dy": 36}, "encoding": {"x": {"datum": 26.5, "type": "quantitative", "scale": {"domain": [0, 42], "nice": false, "zero": false}, "axis": null}, "y": {"datum": 4.4, "type": "quantitative", "scale": {"domain": [0, 4.4], "nice": false, "zero": false}, "axis": null}, "text": {"field": "blue"}}}
          ]
        },
        {
          "width": 185, "height": 218,
          "resolve": {"scale": {"x": "independent", "y": "independent"}},
          "layer": [
            {
              "encoding": {
                "x": {"field": "lead", "type": "quantitative", "scale": {"domain": [0, 42], "nice": false, "zero": false}, "axis": {"values": [0, 6, 18, 30, 42], "labelExpr": "datum.value==0?'':datum.label", "title": null, "labelOverlap": false}},
                "y": {"field": "value", "type": "quantitative", "scale": {"domain": [0, 2.63], "nice": false, "zero": false}, "axis": {"values": [0, 0.5, 1, 1.5, 2, 2.5], "format": ".1f", "labelExpr": "datum.value==0?'':datum.label", "title": null, "labelOverlap": false}}
              },
              "layer": [
                {"data": {"name": "series"}, "transform": [{"filter": "datum.panel=='Maximumtemperatur' && datum.model=='lm1mo'"}], "mark": {"type": "line", "color": "#ff0000", "strokeWidth": 1.2}, "encoding": {}},
                {"data": {"name": "series"}, "transform": [{"filter": "datum.panel=='Maximumtemperatur' && datum.model=='i128f'"}], "mark": {"type": "line", "color": "#0000ff", "strokeWidth": 1.2}, "encoding": {}},
                {"data": {"name": "series"}, "transform": [{"filter": "datum.panel=='Maximumtemperatur'"}], "mark": {"type": "point", "filled": false, "size": 70, "strokeWidth": 1.3, "opacity": 1},
                 "encoding": {"color": {"field": "model", "type": "nominal", "scale": {"domain": ["lm1mo", "i128f"], "range": ["#ff0000", "#0000ff"]}}, "shape": {"field": "model", "type": "nominal", "scale": {"domain": ["lm1mo", "i128f"], "range": ["circle", "M0,-1L0.2245,-0.309L0.951,-0.309L0.363,0.118L0.588,0.809L0,0.382L-0.588,0.809L-0.363,0.118L-0.951,-0.309L-0.2245,-0.309Z"]}}}}
              ]
            },
            {"data": {"name": "panels"}, "transform": [{"filter": "datum.panel=='Maximumtemperatur'"}], "mark": {"type": "text", "color": "#ff00ff", "font": "Liberation Sans", "fontSize": 15, "fontWeight": "bold", "align": "left", "baseline": "middle", "dx": 10, "dy": 12}, "encoding": {"x": {"datum": 0, "type": "quantitative", "scale": {"domain": [0, 42], "nice": false, "zero": false}, "axis": null}, "y": {"datum": 2.63, "type": "quantitative", "scale": {"domain": [0, 2.63], "nice": false, "zero": false}, "axis": null}, "text": {"field": "title"}}},
            {"data": {"name": "panels"}, "transform": [{"filter": "datum.panel=='Maximumtemperatur'"}], "mark": {"type": "text", "color": "#ff0000", "font": "Liberation Sans", "fontSize": 18, "align": "center", "baseline": "middle", "dy": 36}, "encoding": {"x": {"datum": 14.5, "type": "quantitative", "scale": {"domain": [0, 42], "nice": false, "zero": false}, "axis": null}, "y": {"datum": 2.63, "type": "quantitative", "scale": {"domain": [0, 2.63], "nice": false, "zero": false}, "axis": null}, "text": {"field": "red"}}},
            {"data": {"name": "panels"}, "transform": [{"filter": "datum.panel=='Maximumtemperatur'"}], "mark": {"type": "text", "color": "#0000ff", "font": "Liberation Sans", "fontSize": 18, "align": "center", "baseline": "middle", "dy": 36}, "encoding": {"x": {"datum": 26.5, "type": "quantitative", "scale": {"domain": [0, 42], "nice": false, "zero": false}, "axis": null}, "y": {"datum": 2.63, "type": "quantitative", "scale": {"domain": [0, 2.63], "nice": false, "zero": false}, "axis": null}, "text": {"field": "blue"}}}
          ]
        }
      ]
    },
    {
      "spacing": 20, "bounds": "flush",
      "hconcat": [
        {
          "width": 185, "height": 218,
          "resolve": {"scale": {"x": "independent", "y": "independent"}},
          "layer": [
            {
              "encoding": {
                "x": {"field": "lead", "type": "quantitative", "scale": {"domain": [0, 42], "nice": false, "zero": false}, "axis": {"values": [0, 6, 12, 18, 24, 30, 36, 42], "labelExpr": "datum.value==0?'':datum.label", "title": null, "labelFontSize": 11, "labelOverlap": false}},
                "y": {"field": "value", "type": "quantitative", "scale": {"domain": [0, 100.6], "nice": false, "zero": false}, "axis": {"values": [0, 20, 40, 60, 80, 100], "format": "d", "labelExpr": "datum.value==0?'':datum.label", "title": "Alle Stationen", "labelOverlap": false}}
              },
              "layer": [
                {"data": {"name": "series"}, "transform": [{"filter": "datum.panel=='RR01'"}], "mark": {"type": "point", "filled": false, "size": 70, "strokeWidth": 1.3, "opacity": 1},
                 "encoding": {"color": {"field": "model", "type": "nominal", "scale": {"domain": ["lm1mo", "i128f"], "range": ["#ff0000", "#0000ff"]}}, "shape": {"field": "model", "type": "nominal", "scale": {"domain": ["lm1mo", "i128f"], "range": ["circle", "M0,-1L0.2245,-0.309L0.951,-0.309L0.363,0.118L0.588,0.809L0,0.382L-0.588,0.809L-0.363,0.118L-0.951,-0.309L-0.2245,-0.309Z"]}}}}
              ]
            },
            {"data": {"name": "panels"}, "transform": [{"filter": "datum.panel=='RR01'"}], "mark": {"type": "text", "color": "#ff00ff", "fontSize": 16, "align": "left", "baseline": "middle", "dx": 5, "dy": 13}, "encoding": {"x": {"datum": 0, "type": "quantitative", "scale": {"domain": [0, 42], "nice": false, "zero": false}, "axis": null}, "y": {"datum": 100.6, "type": "quantitative", "scale": {"domain": [0, 100.6], "nice": false, "zero": false}, "axis": null}, "text": {"field": "title"}}},
            {"data": {"name": "panels"}, "transform": [{"filter": "datum.panel=='RR01'"}], "mark": {"type": "text", "color": "#ff0000", "font": "Liberation Sans", "fontSize": 18, "align": "center", "baseline": "middle", "dy": 37}, "encoding": {"x": {"datum": 14.5, "type": "quantitative", "scale": {"domain": [0, 42], "nice": false, "zero": false}, "axis": null}, "y": {"datum": 100.6, "type": "quantitative", "scale": {"domain": [0, 100.6], "nice": false, "zero": false}, "axis": null}, "text": {"field": "red"}}},
            {"data": {"name": "panels"}, "transform": [{"filter": "datum.panel=='RR01'"}], "mark": {"type": "text", "color": "#0000ff", "font": "Liberation Sans", "fontSize": 18, "align": "center", "baseline": "middle", "dy": 37}, "encoding": {"x": {"datum": 26.5, "type": "quantitative", "scale": {"domain": [0, 42], "nice": false, "zero": false}, "axis": null}, "y": {"datum": 100.6, "type": "quantitative", "scale": {"domain": [0, 100.6], "nice": false, "zero": false}, "axis": null}, "text": {"field": "blue"}}}
          ]
        },
        {
          "width": 185, "height": 218,
          "resolve": {"scale": {"x": "independent", "y": "independent"}},
          "layer": [
            {
              "encoding": {
                "x": {"field": "lead", "type": "quantitative", "scale": {"domain": [0, 42], "nice": false, "zero": false}, "axis": {"values": [0, 6, 12, 18, 24, 30, 36, 42], "labelExpr": "datum.value==0?'':datum.label", "title": null, "labelOverlap": false}},
                "y": {"field": "value", "type": "quantitative", "scale": {"domain": [0, 100.6], "nice": false, "zero": false}, "axis": {"values": [0, 20, 40, 60, 80, 100], "format": "d", "labelExpr": "datum.value==0?'':datum.label", "title": null, "labelFontSize": 8.5, "labelOverlap": false}}
              },
              "layer": [
                {"data": {"name": "series"}, "transform": [{"filter": "datum.panel=='RR2'"}], "mark": {"type": "point", "filled": false, "size": 70, "strokeWidth": 1.3, "opacity": 1},
                 "encoding": {"color": {"field": "model", "type": "nominal", "scale": {"domain": ["lm1mo", "i128f"], "range": ["#ff0000", "#0000ff"]}}, "shape": {"field": "model", "type": "nominal", "scale": {"domain": ["lm1mo", "i128f"], "range": ["circle", "M0,-1L0.2245,-0.309L0.951,-0.309L0.363,0.118L0.588,0.809L0,0.382L-0.588,0.809L-0.363,0.118L-0.951,-0.309L-0.2245,-0.309Z"]}}}}
              ]
            },
            {"data": {"name": "panels"}, "transform": [{"filter": "datum.panel=='RR2'"}], "mark": {"type": "text", "color": "#ff00ff", "fontSize": 16, "align": "left", "baseline": "middle", "dx": 5, "dy": 13}, "encoding": {"x": {"datum": 0, "type": "quantitative", "scale": {"domain": [0, 42], "nice": false, "zero": false}, "axis": null}, "y": {"datum": 100.6, "type": "quantitative", "scale": {"domain": [0, 100.6], "nice": false, "zero": false}, "axis": null}, "text": {"field": "title"}}},
            {"data": {"name": "panels"}, "transform": [{"filter": "datum.panel=='RR2'"}], "mark": {"type": "text", "color": "#ff0000", "font": "Liberation Sans", "fontSize": 18, "align": "center", "baseline": "middle", "dy": 37}, "encoding": {"x": {"datum": 14.5, "type": "quantitative", "scale": {"domain": [0, 42], "nice": false, "zero": false}, "axis": null}, "y": {"datum": 100.6, "type": "quantitative", "scale": {"domain": [0, 100.6], "nice": false, "zero": false}, "axis": null}, "text": {"field": "red"}}},
            {"data": {"name": "panels"}, "transform": [{"filter": "datum.panel=='RR2'"}], "mark": {"type": "text", "color": "#0000ff", "font": "Liberation Sans", "fontSize": 18, "align": "center", "baseline": "middle", "dy": 37}, "encoding": {"x": {"datum": 26.5, "type": "quantitative", "scale": {"domain": [0, 42], "nice": false, "zero": false}, "axis": null}, "y": {"datum": 100.6, "type": "quantitative", "scale": {"domain": [0, 100.6], "nice": false, "zero": false}, "axis": null}, "text": {"field": "blue"}}}
          ]
        },
        {
          "width": 185, "height": 218,
          "resolve": {"scale": {"x": "independent", "y": "independent"}},
          "layer": [
            {
              "encoding": {
                "x": {"field": "lead", "type": "quantitative", "scale": {"domain": [0, 42], "nice": false, "zero": false}, "axis": {"values": [0, 6, 12, 18, 24, 30, 36, 42], "labelExpr": "datum.value==0?'':datum.label", "title": null, "labelOverlap": false}},
                "y": {"field": "value", "type": "quantitative", "scale": {"domain": [0, 100.6], "nice": false, "zero": false}, "axis": {"values": [0, 20, 40, 60, 80, 100], "format": "d", "labelExpr": "datum.value==0?'':datum.label", "title": null, "labelFontSize": 8.5, "labelOverlap": false}}
              },
              "layer": [
                {"data": {"name": "series"}, "transform": [{"filter": "datum.panel=='RR10'"}], "mark": {"type": "point", "filled": false, "size": 70, "strokeWidth": 1.3, "opacity": 1},
                 "encoding": {"color": {"field": "model", "type": "nominal", "scale": {"domain": ["lm1mo", "i128f"], "range": ["#ff0000", "#0000ff"]}}, "shape": {"field": "model", "type": "nominal", "scale": {"domain": ["lm1mo", "i128f"], "range": ["circle", "M0,-1L0.2245,-0.309L0.951,-0.309L0.363,0.118L0.588,0.809L0,0.382L-0.588,0.809L-0.363,0.118L-0.951,-0.309L-0.2245,-0.309Z"]}}}}
              ]
            },
            {"data": {"name": "panels"}, "transform": [{"filter": "datum.panel=='RR10'"}], "mark": {"type": "text", "color": "#ff00ff", "fontSize": 16, "align": "left", "baseline": "middle", "dx": 5, "dy": 13}, "encoding": {"x": {"datum": 0, "type": "quantitative", "scale": {"domain": [0, 42], "nice": false, "zero": false}, "axis": null}, "y": {"datum": 100.6, "type": "quantitative", "scale": {"domain": [0, 100.6], "nice": false, "zero": false}, "axis": null}, "text": {"field": "title"}}},
            {"data": {"name": "panels"}, "transform": [{"filter": "datum.panel=='RR10'"}], "mark": {"type": "text", "color": "#ff0000", "font": "Liberation Sans", "fontSize": 18, "align": "center", "baseline": "middle", "dy": 37}, "encoding": {"x": {"datum": 14.5, "type": "quantitative", "scale": {"domain": [0, 42], "nice": false, "zero": false}, "axis": null}, "y": {"datum": 100.6, "type": "quantitative", "scale": {"domain": [0, 100.6], "nice": false, "zero": false}, "axis": null}, "text": {"field": "red"}}},
            {"data": {"name": "panels"}, "transform": [{"filter": "datum.panel=='RR10'"}], "mark": {"type": "text", "color": "#0000ff", "font": "Liberation Sans", "fontSize": 18, "align": "center", "baseline": "middle", "dy": 37}, "encoding": {"x": {"datum": 26.5, "type": "quantitative", "scale": {"domain": [0, 42], "nice": false, "zero": false}, "axis": null}, "y": {"datum": 100.6, "type": "quantitative", "scale": {"domain": [0, 100.6], "nice": false, "zero": false}, "axis": null}, "text": {"field": "blue"}}}
          ]
        },
        {
          "width": 385, "height": 218,
          "data": {"name": "counts"},
          "mark": {"type": "text", "align": "right", "baseline": "middle", "color": "#0000ff", "fontSize": 15.5},
          "encoding": {
            "x": {"datum": 1, "type": "quantitative", "scale": {"domain": [0, 1]}, "axis": null},
            "y": {"field": "line", "type": "nominal", "sort": null, "scale": {"type": "point", "padding": 0.52, "align": 0.84}, "axis": null},
            "text": {"field": "line"}
          }
        }
      ]
    }
  ]
}
